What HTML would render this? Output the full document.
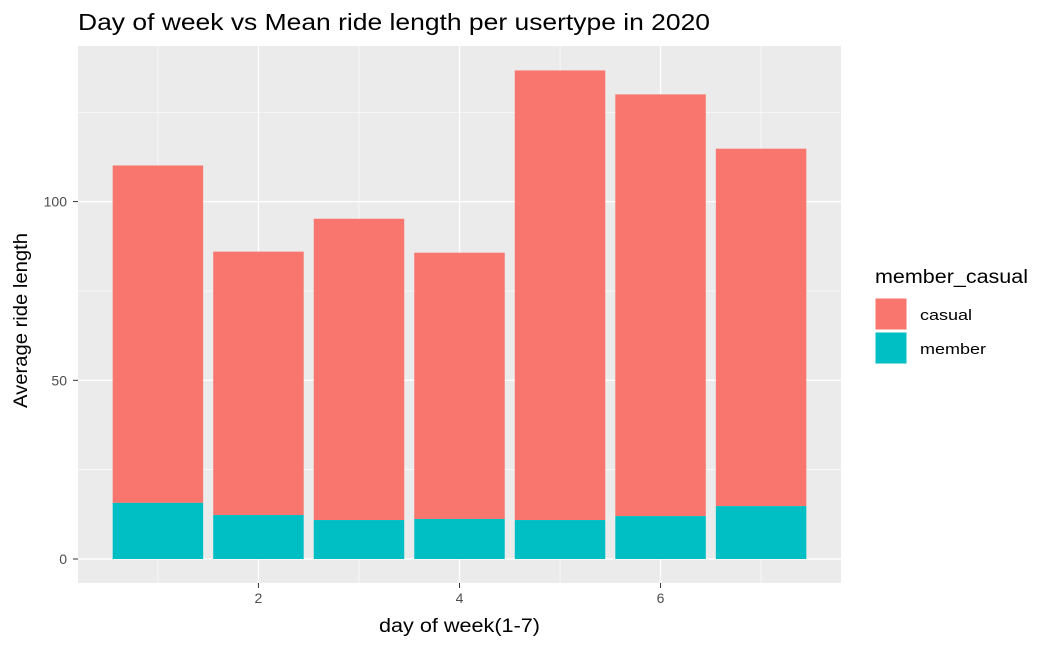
<!DOCTYPE html>
<html><head><meta charset="utf-8"><style>
body{margin:0;background:#fff;}
svg{display:block;font-family:"Liberation Sans",sans-serif;}
</style></head><body>
<svg id="chart" width="1050" height="648" viewBox="0 0 1050 648">
<text x="78" y="30" font-size="23" fill="#000" textLength="632" lengthAdjust="spacingAndGlyphs">Day of week vs Mean ride length per usertype in 2020</text>
<rect x="78" y="46" width="763" height="537" fill="#ebebeb"/>
<g id="grid"></g><g id="bars"></g><g id="axes"></g>
<text x="379" y="632" font-size="19" fill="#000" textLength="161" lengthAdjust="spacingAndGlyphs">day of week(1-7)</text>
<text transform="translate(27,408) rotate(-90)" font-size="19" fill="#000" textLength="175" lengthAdjust="spacingAndGlyphs">Average ride length</text>
<g>
<text x="875" y="283" font-size="19" fill="#000" textLength="153" lengthAdjust="spacingAndGlyphs">member_casual</text>
<g><rect x="875" y="298" width="32" height="32" fill="#f8766d" stroke="#fff" stroke-width="1"/><text x="920" y="320" font-size="15" fill="#000" textLength="52" lengthAdjust="spacingAndGlyphs">casual</text></g>
<g><rect x="875" y="332" width="32" height="32" fill="#00bfc4" stroke="#fff" stroke-width="1"/><text x="920" y="354" font-size="15" fill="#000" textLength="66" lengthAdjust="spacingAndGlyphs">member</text></g>
</g>
</svg>
<script>
const days = [1,2,3,4,5,6,7];
const memberValues = [15.7,12.3,10.9,11.2,10.9,12.0,14.8];
const casualValues = [94.4,73.7,84.3,74.5,125.8,118.0,100.0];
const yTicks = [0,50,100];
const xTicks = [2,4,6];
const NS="http://www.w3.org/2000/svg";
const totals = days.map((d,i)=>memberValues[i]+casualValues[i]);
const ymax = Math.max(...totals)*1.05;
const x0=0.205, x1=7.795;
const xs = v => 78 + (v-x0)/(x1-x0)*763;
const yS = v => 559 - v/ymax*513;
function mk(tag,attrs,parent){const e=document.createElementNS(NS,tag);for(const k in attrs)e.setAttribute(k,attrs[k]);document.getElementById(parent).appendChild(e);return e;}
for(let i=0;i<yTicks.length;i++){const v=yTicks[i]+25;
 const l=mk('line',{x1:78,x2:841,y1:yS(v),y2:yS(v),stroke:'#fff','stroke-width':0.6},'grid');
 
 }
[1,3,5,7].forEach(v=>{const l=mk('line',{x1:xs(v),x2:xs(v),y1:46,y2:583,stroke:'#fff','stroke-width':0.6},'grid');
 
 });
yTicks.forEach(v=>{const l=mk('line',{x1:78,x2:841,y1:yS(v),y2:yS(v),stroke:'#fff','stroke-width':1.3},'grid');
 
 
 const t=mk('text',{x:67,y:yS(v)+5,'font-size':14,'text-anchor':'end',fill:'#4d4d4d'},'axes');t.textContent=v;
 
 
 const k=mk('line',{x1:73,x2:78,y1:yS(v),y2:yS(v),stroke:'#333','stroke-width':1},'axes');
 
 });
xTicks.forEach(v=>{const l=mk('line',{x1:xs(v),x2:xs(v),y1:46,y2:583,stroke:'#fff','stroke-width':1.3},'grid');
 
 
 const t=mk('text',{x:xs(v),y:603,'font-size':14,'text-anchor':'middle',fill:'#4d4d4d'},'axes');t.textContent=v;
 
 
 const k=mk('line',{x1:xs(v),x2:xs(v),y1:583,y2:588,stroke:'#333','stroke-width':1},'axes');
 
 });
days.forEach((d,i)=>{
 const xl=xs(d-0.45), w=xs(d+0.45)-xl;
 const m=memberValues[i], c=casualValues[i];
 const r1=mk('rect',{x:xl,y:yS(m+c),width:w,height:yS(m)-yS(m+c),fill:'#f8766d'},'bars');
 
 
 const r2=mk('rect',{x:xl,y:yS(m),width:w,height:yS(0)-yS(m),fill:'#00bfc4'},'bars');
 
 
});
</script>
</body></html>
